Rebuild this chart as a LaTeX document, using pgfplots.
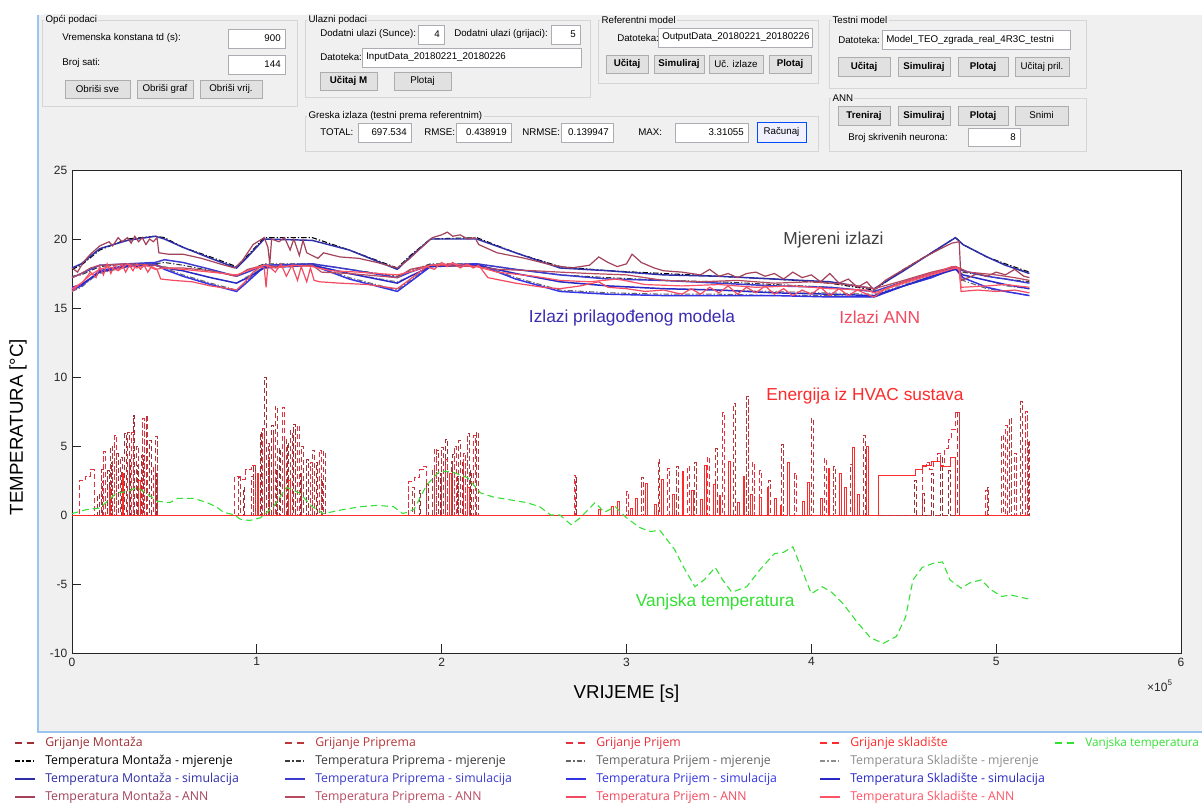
\documentclass[border=0pt]{standalone}
\usepackage{pgfplots}
\pgfplotsset{compat=1.18}
\usepackage{pgfplotstable}
\usepackage{fontspec}
\setmainfont{Liberation Sans}
\newfontfamily\legf{Open Sans}
\newcommand{\guifont}{\fontsize{7.3}{9}\selectfont}
\newcommand{\legfont}{\legf\fontsize{9.2}{11}\selectfont}

\definecolor{bg}{HTML}{F0F0F0}
\definecolor{pline}{HTML}{D5D5D5}
\definecolor{fline}{HTML}{ABADB3}
\definecolor{bfill}{HTML}{E1E1E1}
\definecolor{bline}{HTML}{ADADAD}
\definecolor{frame}{HTML}{99C4EE}
\definecolor{axc}{HTML}{262626}
% heating
\definecolor{gm}{HTML}{9E2F34}
\definecolor{gp}{HTML}{B8383C}
\definecolor{gj}{HTML}{E6303E}
\definecolor{gs}{HTML}{FF2A2A}
\definecolor{vt}{HTML}{33E033}
% measured
\definecolor{mm}{HTML}{000000}
\definecolor{mp}{HTML}{3A3A3A}
\definecolor{mj}{HTML}{666666}
\definecolor{ms}{HTML}{8E8E8E}
% simulated
\definecolor{sm}{HTML}{2E2EA8}
\definecolor{sp}{HTML}{3B3BD0}
\definecolor{sj}{HTML}{3434E6}
\definecolor{ss}{HTML}{2828C8}
% ANN
\definecolor{am}{HTML}{A3425A}
\definecolor{ap}{HTML}{B84A60}
\definecolor{aj}{HTML}{F24A60}
\definecolor{as}{HTML}{FF5466}

\newcommand{\gpanel}[5]{\draw[pline] (#1,#2) rectangle (#3,#4);
  \node[fill=bg,inner sep=1pt,anchor=west,font=\guifont] at ({#1+2},#2) {#5};}
\newcommand{\glabel}[3]{\node[anchor=west,inner sep=0pt,font=\guifont] at (#1,#2) {#3};}
\newcommand{\gfield}[5]{\draw[fill=white,draw=fline] (#1,#2) rectangle (#3,#4);
  \node[anchor=east,inner sep=0pt,font=\guifont] at ({#3-4},{(#2+#4)/2}) {#5};}
\newcommand{\gfieldl}[5]{\draw[fill=white,draw=fline] (#1,#2) rectangle (#3,#4);
  \node[anchor=west,inner sep=0pt,font=\guifont] at ({#1+4},{(#2+#4)/2}) {#5};}
\newcommand{\gbutton}[5]{\draw[fill=bfill,draw=bline] (#1,#2) rectangle (#3,#4);
  \node[inner sep=0pt,font=\guifont] at ({(#1+#3)/2},{(#2+#4)/2}) {#5};}
% legend entry: x, y, colour, line style, text
\newcommand{\lgentry}[5]{\draw[draw=#3, line width=1.1pt, #4] (#1,#2) -- ({#1+20},#2);
  \node[anchor=west,inner sep=0pt,font=\legfont,text=#3] at ({#1+30},#2) {#5};}
\tikzset{hdash/.style={dash pattern=on 5.5pt off 3.5pt},
  mdash/.style={dash pattern=on 4pt off 1.5pt on 1pt off 1.5pt}}

% measured (M) and simulated (S) temperatures, x in 1e5 s
\pgfplotstableread{
x    MA   SA   MB   SB   MC   SC   MD   SD
0    17.8 17.9 17.3 17.2 16.2 16.3 16.4 16.5
0.05 18.1 18.2 17.4 17.5 16.5 16.6 16.6 16.7
0.15 19.2 19.3 18.0 18.1 17.6 17.7 17.5 17.6
0.3  20.0 19.9 18.2 18.2 18.2 18.1 18.0 18.0
0.45 20.2 20.2 18.2 18.3 18.2 18.2 18.1 18.1
0.5  20.1 20.0 18.3 18.5 17.9 17.8 18.0 17.9
0.6  19.4 19.4 18.1 18.3 17.4 17.3 17.7 17.7
0.75 18.7 18.6 17.7 17.8 16.8 16.7 17.2 17.2
0.89 18.0 17.9 17.3 17.3 16.3 16.2 16.8 16.8
0.95 18.8 18.7 17.7 17.6 17.0 16.9 17.3 17.2
1.04 20.1 20.0 18.2 18.1 18.1 18.0 18.0 17.9
1.3  20.1 19.9 18.2 18.2 18.2 18.1 18.1 18.1
1.5  19.2 19.2 17.8 17.8 17.2 17.1 17.5 17.5
1.76 17.9 17.8 17.3 17.2 16.3 16.2 16.9 16.8
1.83 18.8 18.7 17.7 17.6 17.0 16.9 17.3 17.3
1.94 20.0 20.0 18.2 18.1 18.1 18.0 18.0 18.0
2.19 20.1 20.0 18.2 18.2 18.2 18.2 18.1 18.1
2.4  19.0 19.0 17.8 17.8 17.2 17.1 17.5 17.5
2.64 18.0 17.9 17.4 17.4 16.3 16.2 16.9 16.9
2.9  17.7 17.7 17.2 17.1 16.1 16.0 16.6 16.6
3.2  17.5 17.4 17.0 17.0 16.0 15.9 16.4 16.4
3.5  17.3 17.3 16.9 16.8 16.0 15.9 16.3 16.3
3.8  17.1 17.1 16.7 16.6 15.9 15.9 16.2 16.1
4.1  16.8 16.9 16.5 16.5 15.9 15.8 16.1 16.0
4.34 16.3 16.4 16.2 16.2 15.8 15.8 16.0 15.9
4.5  17.8 17.7 16.9 16.9 16.6 16.6 16.7 16.6
4.65 19.0 19.0 17.5 17.5 17.2 17.2 17.3 17.3
4.78 20.1 20.1 18.0 18.0 17.9 17.9 17.8 17.8
4.82 19.6 19.6 17.6 17.7 17.0 17.2 17.4 17.4
4.95 18.7 18.7 17.3 17.3 16.4 16.5 17.0 17.0
5.05 18.2 18.1 17.1 17.1 16.2 16.2 16.6 16.7
5.18 17.6 17.5 16.9 16.8 15.9 15.9 16.4 16.4
}\temps

\begin{document}
\begin{tikzpicture}[x=0.75pt,y=-0.75pt]
\fill[white] (0,0) rectangle (1202,805);
\fill[bg] (38,15) rectangle (1202,732);
\draw[frame,line width=1pt] (38,15) -- (38,732) -- (1202,732);

% GUI panels
\gpanel{42}{20}{297}{106}{Opći podaci}
\glabel{62}{38}{Vremenska konstana td (s):}
\gfield{228}{29}{285}{48}{900}
\glabel{62}{63}{Broj sati:}
\gfield{228}{55}{285}{74}{144}
\gbutton{65}{80}{130}{98}{Obriši sve}
\gbutton{137}{80}{193}{98}{Obriši graf}
\gbutton{200}{80}{262}{98}{Obriši vrij.}

\gpanel{305}{20}{590}{97}{Ulazni podaci}
\glabel{320}{34}{Dodatni ulazi (Sunce):}
\gfield{418}{25}{444}{44}{4}
\glabel{454}{34}{Dodatni ulazi (grijaci):}
\gfield{551}{25}{580}{44}{5}
\glabel{320}{57}{Datoteka:}
\gfieldl{362}{48}{581}{67}{InputData\_20180221\_20180226}
\gbutton{320}{72}{377}{90}{\bfseries Učitaj M}
\gbutton{394}{72}{451}{90}{Plotaj}

\gpanel{598}{20}{818}{83}{Referentni model}
\glabel{617}{38}{Datoteka:}
\gfieldl{658}{28}{812}{47}{OutputData\_20180221\_20180226}
\gbutton{606}{55}{648}{73}{\bfseries Učitaj}
\gbutton{654}{55}{704}{73}{\bfseries Simuliraj}
\gbutton{709}{55}{763}{73}{Uč. izlaze}
\gbutton{769}{55}{811}{73}{\bfseries Plotaj}

\gpanel{829}{20}{1086}{88}{Testni model}
\glabel{838}{40}{Datoteka:}
\gfieldl{882}{30}{1070}{49}{Model\_TEO\_zgrada\_real\_4R3C\_testni}
\gbutton{838}{57}{890}{76}{\bfseries Učitaj}
\gbutton{898}{57}{950}{76}{\bfseries Simuliraj}
\gbutton{958}{57}{1008}{76}{\bfseries Plotaj}
\gbutton{1015}{57}{1069}{76}{Učitaj pril.}

\gpanel{305}{116}{818}{151}{Greska izlaza (testni prema referentnim)}
\glabel{320}{132}{TOTAL:}
\gfield{358}{123}{411}{142}{697.534}
\glabel{424}{132}{RMSE:}
\gfield{456}{123}{511}{142}{0.438919}
\glabel{522}{132}{NRMSE:}
\gfield{561}{123}{613}{142}{0.139947}
\glabel{638}{132}{MAX:}
\gfield{675}{123}{748}{142}{3.31055}
\draw[fill=blue!6,draw=blue!70!cyan] (757,122) rectangle (806,142);
\node[inner sep=0pt,font=\guifont] at (781.5,132) {Računaj};

\gpanel{829}{98}{1086}{151}{ANN}
\gbutton{838}{106}{890}{125}{\bfseries Treniraj}
\gbutton{898}{106}{950}{125}{\bfseries Simuliraj}
\gbutton{958}{106}{1008}{125}{\bfseries Plotaj}
\gbutton{1015}{106}{1068}{125}{Snimi}
\glabel{848}{138}{Broj skrivenih neurona:}
\gfield{968}{128}{1020}{146}{8}

\coordinate (AO) at (72,653);
\begin{axis}[
  at={(AO)}, anchor=south west,
  scale only axis, width=831.75pt, height=362.25pt,
  xmin=0, xmax=6, ymin=-10, ymax=25,
  clip=false,
  xtick={0,1,...,6}, ytick={-10,-5,...,25},
  tick align=inside, tick pos=left,
  major tick length=7pt,
  axis line style={axc, line width=0.7pt},
  tick style={axc, line width=0.7pt},
  axis background/.style={fill=white},
  /pgf/number format/assume math mode=true,
  tick label style={font=\fontsize{9}{10}\selectfont, text=axc},
  xlabel={VRIJEME [s]}, ylabel={TEMPERATURA [°C]},
  label style={font=\fontsize{14}{16}\selectfont, text=black},
  xlabel style={at={(axis description cs:0.5,-0.0849)}, anchor=center},
  ylabel style={at={(axis description cs:-0.0487,0.468)}, anchor=center},
]
% heating energy
\addplot[const plot, gm, line width=0.6pt, dash pattern=on 4pt off 2pt] coordinates {
(0,0)(0.14,1.5)(0.15,0)(0.165,2.4)(0.17,0)(0.19,3.2)(0.2,0)(0.215,3.8)(0.22,0)(0.24,4.5)(0.25,0)
(0.265,3.1)(0.27,0)(0.285,5.9)(0.295,0)(0.31,4.0)(0.315,0)(0.33,7.2)(0.34,0)(0.355,3.6)(0.36,0)
(0.375,4.3)(0.385,0)(0.4,2.9)(0.405,0)(0.42,5.4)(0.43,0)(0.455,3.0)(0.46,0)
(0.93,2.0)(0.935,0)(0.98,3.5)(0.99,0)(1.02,6.0)(1.025,0)(1.04,10)(1.05,0)(1.065,4.0)(1.07,0)
(1.08,6.5)(1.09,0)(1.105,3.2)(1.11,0)(1.12,4.8)(1.13,0)(1.165,5.2)(1.17,0)(1.2,6.6)(1.21,0)
(1.235,3.0)(1.24,0)(1.27,4.0)(1.28,0)(1.32,3.8)(1.33,0)(1.35,2.6)(1.355,0)
(1.88,1.8)(1.885,0)(1.92,2.2)(1.93,0)(1.97,4.7)(1.98,0)(1.995,3.0)(2.0,0)(2.02,5.5)(2.03,0)
(2.06,4.4)(2.07,0)(2.085,2.8)(2.09,0)(2.11,3.8)(2.12,0)(2.155,3.2)(2.16,0)
(2.72,2.7)(2.73,0)(3.3,0.8)(3.31,0)(4.56,2.5)(4.57,0)(4.6,1.6)(4.61,0)(4.65,3.0)(4.66,0)
(4.7,4.2)(4.71,0)(4.74,3.2)(4.75,0)(5.18,0)};
\addplot[const plot, gp, line width=0.6pt, dash pattern=on 4pt off 2pt] coordinates {
(0,0)(0.16,3.3)(0.17,0)(0.21,5.0)(0.22,0)(0.26,4.2)(0.27,0)(0.3,6.0)(0.31,0)(0.35,5.0)(0.36,0)
(0.40,7.2)(0.41,0)(0.45,5.7)(0.46,0)(0.9,2.7)(0.91,0)(0.97,2.8)(0.98,0)(1.06,5.2)(1.07,0)
(1.1,7.9)(1.11,0)(1.15,5.5)(1.16,0)(1.18,6.1)(1.19,0)(1.24,5.0)(1.25,0)(1.3,4.7)(1.31,0)
(1.36,4.6)(1.37,0)(1.84,2.0)(1.85,0)(1.95,3.3)(1.96,0)(2.0,4.9)(2.01,0)(2.05,3.9)(2.06,0)
(2.09,5.4)(2.1,0)(2.14,5.9)(2.15,0)(2.19,6.0)(2.2,0)(3.08,2.7)(3.09,0)(3.17,4.0)(3.18,0)
(3.27,3.5)(3.28,0)(3.37,3.8)(3.38,0)(3.48,4.8)(3.49,0)(3.58,8.1)(3.59,0)(3.65,8.6)(3.66,0)
(3.77,2.5)(3.78,0)(3.84,5.1)(3.85,0)(4.0,7.0)(4.01,0)(4.12,3.5)(4.13,0)(4.21,3.7)(4.22,0)
(4.28,5.8)(4.29,0)(4.79,7.4)(4.8,0)(4.95,2.0)(4.96,0)(5.03,5.8)(5.04,0)(5.07,7.0)(5.08,0)
(5.13,8.2)(5.14,0)(5.175,5.4)(5.18,0)};
\addplot[const plot, gj, line width=0.6pt, dash pattern=on 4pt off 2pt] coordinates {
(0,0)(0.04,2.5)(0.07,2.8)(0.1,3.3)(0.12,0)(0.17,4.6)(0.18,0)(0.23,5.8)(0.24,0)(0.27,3.0)(0.28,0)
(0.32,6.0)(0.33,0)(0.38,7.0)(0.39,0)(0.44,3.5)(0.45,0)(0.88,2.8)(0.91,2.6)(0.94,3.3)(0.97,3.6)
(0.99,0)(1.03,6.3)(1.04,0)(1.09,5.8)(1.1,0)(1.14,7.8)(1.15,0)(1.22,6.5)(1.23,0)(1.29,3.8)(1.3,0)
(1.34,4.7)(1.35,0)(1.82,2.4)(1.85,2.7)(1.88,3.3)(1.9,3.5)(1.92,0)(1.96,4.8)(1.97,0)(2.02,4.0)
(2.03,0)(2.07,5.0)(2.08,0)(2.12,4.5)(2.13,0)(2.17,5.8)(2.18,0)(2.72,2.9)(2.725,0)(3.0,1.7)(3.01,0)
(3.22,3.4)(3.23,0)(3.33,3.5)(3.34,0)(3.44,4.2)(3.45,0)(3.52,7.4)(3.53,0)(3.68,3.8)(3.69,0)
(3.72,3.2)(3.73,0)(3.91,3.0)(3.92,0)(4.07,4.1)(4.08,0)(4.6,3.5)(4.62,3.8)(4.64,3.3)(4.66,3.9)
(4.68,4.5)(4.7,3.6)(4.72,4.8)(4.74,5.5)(4.76,6.2)(4.78,7.4)(4.8,0)(4.94,1.8)(4.95,0)(5.05,6.5)
(5.06,0)(5.1,4.5)(5.11,0)(5.16,7.5)(5.17,0)(5.18,0)};
\addplot[const plot, gs, line width=0.5pt] coordinates {
(0,0)(0.2,2.0)(0.21,0)(0.27,3.0)(0.28,0)(0.36,2.5)(0.37,0)(1.0,3.0)(1.01,0)(1.17,2.5)(1.18,0)
(2.04,3.0)(2.05,0)(2.14,2.0)(2.15,0)
(2.85,0.4)(2.86,0)(2.92,0.6)(2.93,0)(2.95,1.0)(2.96,0)(3.02,0.5)(3.03,0)(3.05,1.2)(3.06,0)
(3.1,2.3)(3.11,0)(3.15,0.8)(3.16,0)(3.19,2.6)(3.2,0)(3.25,1.5)(3.26,0)(3.3,3.2)(3.31,0)
(3.35,1.8)(3.36,0)(3.4,1.1)(3.41,0)(3.42,3.6)(3.43,0)(3.47,2.2)(3.48,0)(3.5,1.4)(3.51,0)
(3.55,3.9)(3.56,0)(3.6,0.9)(3.61,0)(3.63,2.8)(3.64,0)(3.67,1.5)(3.68,0)(3.72,1.3)(3.73,0)
(3.76,2.0)(3.77,0)(3.8,1.2)(3.81,0)(3.83,0.7)(3.84,0)(3.87,3.8)(3.88,0)(3.95,1.0)(3.96,0)
(3.98,2.4)(3.99,0)(4.05,1.2)(4.06,0)(4.09,3.4)(4.1,0)(4.15,3.0)(4.16,0)(4.18,2.0)(4.19,0)
(4.22,4.9)(4.23,0)(4.25,1.5)(4.26,0)(4.3,5.0)(4.31,0)(4.36,2.9)(4.56,3.3)(4.6,3.6)(4.65,3.9)
(4.7,3.5)(4.75,4.2)(4.78,0)(5.18,0)};
% outside temperature
\addplot[vt, line width=0.8pt, dash pattern=on 5pt off 3pt] coordinates {
(0,0.1)(0.08,0.4)(0.15,0.5)(0.2,1.1)(0.24,1.6)(0.3,1.7)(0.35,2.0)(0.4,1.6)(0.46,1.0)(0.53,0.9)
(0.57,1.2)(0.66,1.2)(0.73,0.9)(0.78,0.6)(0.82,0.2)(0.88,0)(0.91,-0.3)(0.96,-0.4)(1.02,-0.2)
(1.09,0.6)(1.16,2.0)(1.23,1.6)(1.30,0.6)(1.36,0.1)(1.47,0.4)(1.56,0.6)(1.65,0.7)(1.74,0.6)
(1.79,0.1)(1.85,0.4)(1.92,2.2)(1.99,3.2)(2.06,3.1)(2.14,2.7)(2.21,1.6)(2.28,1.3)(2.37,1.1)
(2.46,0.9)(2.53,0.6)(2.59,0)(2.64,0)(2.70,-0.7)(2.75,-0.2)(2.83,0.9)(2.88,0.2)(2.94,0.6)
(3.0,-0.2)(3.07,-0.9)(3.13,-1.2)(3.18,-1.1)(3.26,-2.5)(3.31,-3.8)(3.37,-5.2)(3.42,-4.7)
(3.48,-3.8)(3.52,-4.7)(3.57,-5.6)(3.65,-5.2)(3.72,-4.0)(3.80,-2.8)(3.85,-2.7)(3.90,-2.3)
(3.95,-4.0)(4.0,-5.7)(4.06,-5.2)(4.11,-5.6)(4.17,-6.4)(4.25,-7.8)(4.32,-8.9)(4.39,-9.3)
(4.46,-8.8)(4.51,-7.4)(4.55,-4.7)(4.60,-3.8)(4.66,-3.5)(4.71,-3.4)(4.75,-4.7)(4.81,-5.3)
(4.86,-4.9)(4.92,-4.7)(4.97,-5.4)(5.03,-5.9)(5.08,-5.8)(5.18,-6.1)};
% measured
\addplot[mm, line width=0.8pt, mdash] table[x=x,y=MA] {\temps};
\addplot[mp, line width=0.8pt, mdash] table[x=x,y=MB] {\temps};
\addplot[mj, line width=0.8pt, mdash] table[x=x,y=MC] {\temps};
\addplot[ms, line width=0.8pt, mdash] table[x=x,y=MD] {\temps};
% simulated
\addplot[sm, line width=1.1pt] table[x=x,y=SA] {\temps};
\addplot[sp, line width=1.1pt] table[x=x,y=SB] {\temps};
\addplot[sj, line width=1.1pt] table[x=x,y=SC] {\temps};
\addplot[ss, line width=1.1pt] table[x=x,y=SD] {\temps};
% ANN
\addplot[am, line width=0.9pt] coordinates {
(0,17.9)(0.03,17.6)(0.06,18.3)(0.1,18.9)(0.15,19.5)(0.2,19.8)(0.22,19.5)(0.25,20.1)(0.27,19.8)
(0.3,20.1)(0.32,19.7)(0.34,20.2)(0.36,19.8)(0.38,20.1)(0.4,19.6)(0.42,20.0)(0.44,19.8)(0.46,20.1)
(0.47,19.0)(0.52,18.9)(0.6,18.9)(0.7,18.6)(0.8,18.2)(0.88,17.9)(0.92,18.4)(0.98,19.6)(1.04,20.1)
(1.06,19.4)(1.07,18.2)(1.08,20.0)(1.12,19.8)(1.15,20.1)(1.18,19.2)(1.2,20.0)(1.23,18.8)(1.25,19.9)
(1.27,19.0)(1.3,18.8)(1.33,18.6)(1.36,19.0)(1.45,18.7)(1.55,18.6)(1.65,18.3)(1.76,17.9)(1.82,18.5)
(1.9,19.5)(1.95,20.1)(2.0,20.3)(2.03,20.5)(2.06,20.2)(2.1,20.3)(2.14,20.0)(2.18,20.1)(2.2,19.6)
(2.3,19.0)(2.45,18.6)(2.6,18.1)(2.7,17.9)(2.8,18.1)(2.85,18.7)(2.9,18.3)(2.95,18.0)(3.0,18.2)
(3.03,18.9)(3.08,18.3)(3.15,17.9)(3.2,17.7)(3.3,17.6)(3.4,17.4)(3.45,17.8)(3.5,17.3)(3.55,17.5)
(3.6,17.2)(3.65,17.5)(3.7,17.6)(3.75,17.3)(3.8,17.5)(3.85,17.1)(3.9,17.6)(3.95,17.2)(4.0,17.4)
(4.05,16.9)(4.1,17.5)(4.15,16.8)(4.2,17.1)(4.25,16.5)(4.3,16.9)(4.34,16.3)(4.4,17.0)(4.5,17.8)
(4.6,18.6)(4.7,19.3)(4.76,19.7)(4.8,19.8)(4.81,17.0)(4.85,17.2)(4.9,17.5)(4.95,17.3)(5.0,17.6)
(5.05,17.4)(5.1,17.8)(5.15,17.3)(5.18,17.2)};
\addplot[ap, line width=0.9pt] coordinates {
(0,17.2)(0.05,17.5)(0.1,17.9)(0.15,18.1)(0.3,18.2)(0.45,18.1)(0.5,17.9)(0.6,17.9)(0.75,17.7)
(0.89,17.3)(0.95,17.8)(1.04,18.1)(1.1,18.0)(1.3,18.1)(1.35,17.6)(1.5,17.5)(1.76,17.2)(1.83,17.8)
(1.94,18.1)(2.19,18.0)(2.3,17.8)(2.5,17.7)(2.64,17.6)(2.8,17.5)(3.0,17.4)(3.2,17.0)(3.4,16.9)
(3.6,17.0)(3.8,16.8)(4.0,16.9)(4.2,16.7)(4.34,16.4)(4.5,17.0)(4.65,17.6)(4.78,18.0)(4.8,17.9)
(4.85,17.6)(5.0,17.4)(5.1,17.2)(5.18,17.0)};
\addplot[aj, line width=0.9pt] coordinates {
(0,16.2)(0.03,16.6)(0.06,16.9)(0.1,17.6)(0.13,17.2)(0.15,18.0)(0.17,17.4)(0.19,18.2)(0.21,17.5)
(0.23,18.1)(0.25,17.8)(0.27,18.2)(0.29,17.6)(0.31,18.1)(0.33,17.7)(0.35,18.2)(0.37,17.8)(0.39,18.1)
(0.41,17.6)(0.43,18.0)(0.46,17.8)(0.48,17.1)(0.55,17.0)(0.65,16.9)(0.75,16.6)(0.85,16.4)(0.89,16.3)
(0.93,16.8)(0.98,17.6)(1.02,18.0)(1.04,17.9)(1.05,16.5)(1.06,18.1)(1.1,17.6)(1.13,18.2)(1.16,17.3)
(1.19,18.1)(1.22,17.0)(1.24,18.0)(1.27,16.9)(1.29,17.9)(1.31,17.0)(1.34,16.9)(1.45,16.8)(1.6,16.7)
(1.76,16.4)(1.82,17.0)(1.88,17.6)(1.92,18.0)(1.96,17.8)(2.0,18.3)(2.03,18.0)(2.06,18.3)(2.1,17.9)
(2.14,18.2)(2.17,17.9)(2.2,18.1)(2.25,17.2)(2.4,16.8)(2.55,16.5)(2.64,16.4)(2.75,16.6)(2.85,16.9)
(2.9,16.5)(3.0,16.4)(3.1,16.2)(3.2,16.3)(3.3,16.0)(3.35,16.4)(3.4,16.0)(3.45,16.5)(3.5,16.1)
(3.55,16.6)(3.6,16.0)(3.65,16.5)(3.7,16.1)(3.75,16.6)(3.8,16.0)(3.85,16.4)(3.9,15.9)(3.95,16.3)
(4.0,16.0)(4.05,16.5)(4.1,15.9)(4.15,16.4)(4.2,15.9)(4.25,16.3)(4.3,16.0)(4.34,15.8)(4.4,16.4)
(4.5,16.9)(4.6,17.3)(4.7,17.7)(4.76,18.0)(4.8,17.9)(4.81,16.2)(4.9,16.3)(5.0,16.2)(5.1,16.3)(5.18,16.1)};
\addplot[as, line width=0.9pt] coordinates {
(0,16.4)(0.05,16.8)(0.1,17.4)(0.15,17.8)(0.2,18.0)(0.25,17.7)(0.3,18.2)(0.35,17.9)(0.4,18.1)
(0.45,17.8)(0.5,17.9)(0.6,17.8)(0.75,17.6)(0.89,17.4)(0.95,17.7)(1.04,18.1)(1.1,17.9)(1.2,18.1)
(1.3,18.0)(1.4,17.7)(1.55,17.6)(1.76,17.4)(1.85,17.7)(1.94,18.1)(2.05,18.2)(2.19,18.0)(2.3,17.6)
(2.5,17.3)(2.64,17.0)(2.8,16.9)(2.95,17.1)(3.1,16.7)(3.3,16.6)(3.5,16.7)(3.7,16.5)(3.9,16.6)
(4.1,16.4)(4.3,16.3)(4.34,16.1)(4.5,16.8)(4.65,17.4)(4.78,17.9)(4.8,17.8)(4.81,16.5)(4.95,16.6)
(5.05,16.7)(5.18,16.5)};

% annotations
\node[font=\fontsize{13}{15}\selectfont, text=black!75] at (axis cs:4.12,19.9) {Mjereni izlazi};
\node[font=\fontsize{13}{15}\selectfont, text={rgb,255:red,58;green,44;blue,176}] at (axis cs:3.03,14.3) {Izlazi prilagođenog modela};
\node[font=\fontsize{13}{15}\selectfont, text=aj] at (axis cs:4.37,14.3) {Izlazi ANN};
\node[font=\fontsize{13}{15}\selectfont, text=gs] at (axis cs:4.29,8.6) {Energija iz HVAC sustava};
\node[font=\fontsize{13}{15}\selectfont, text=vt] at (axis cs:3.48,-6.3) {Vanjska temperatura};
\node[font=\fontsize{9}{10}\selectfont, text=axc, anchor=center] at (axis description cs:0.981,-0.068) {×10\textsuperscript{5}};
\end{axis}

% legend below the panel
\lgentry{15}{743}{gm}{hdash}{Grijanje Montaža}
\lgentry{285}{743}{gp}{hdash}{Grijanje Priprema}
\lgentry{566}{743}{gj}{hdash}{Grijanje Prijem}
\lgentry{820}{743}{gs}{hdash}{Grijanje skladište}
\lgentry{1055}{743}{vt}{hdash}{\fontsize{8.8}{11}\selectfont Vanjska temperatura}
\lgentry{15}{761}{mm}{mdash}{Temperatura Montaža - mjerenje}
\lgentry{285}{761}{mp}{mdash}{Temperatura Priprema - mjerenje}
\lgentry{566}{761}{mj}{mdash}{Temperatura Prijem - mjerenje}
\lgentry{820}{761}{ms}{mdash}{Temperatura Skladište - mjerenje}
\lgentry{15}{779}{sm}{solid}{Temperatura Montaža - simulacija}
\lgentry{285}{779}{sp}{solid}{Temperatura Priprema - simulacija}
\lgentry{566}{779}{sj}{solid}{Temperatura Prijem - simulacija}
\lgentry{820}{779}{ss}{solid}{Temperatura Skladište - simulacija}
\lgentry{15}{797}{am}{solid}{Temperatura Montaža - ANN}
\lgentry{285}{797}{ap}{solid}{Temperatura Priprema - ANN}
\lgentry{566}{797}{aj}{solid}{Temperatura Prijem - ANN}
\lgentry{820}{797}{as}{solid}{Temperatura Skladište - ANN}

\pgfresetboundingbox
\path (0,0) rectangle (1202,805);
\end{tikzpicture}
\end{document}
